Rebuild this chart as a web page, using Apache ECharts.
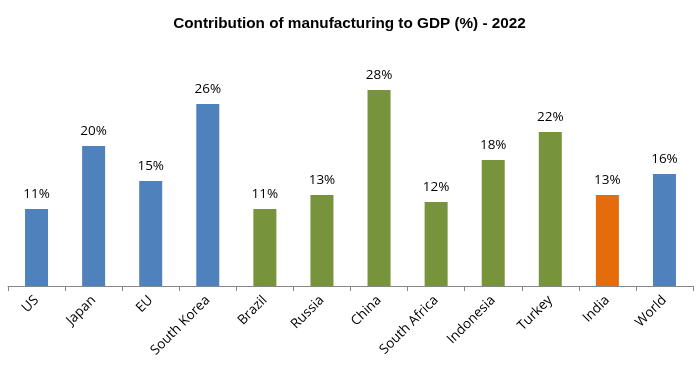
<!DOCTYPE html>
<html><head><meta charset="utf-8">
<script src="https://cdn.jsdelivr.net/npm/echarts@6/dist/echarts.min.js"></script>
<style>html,body{margin:0;padding:0;background:#fff}#c{width:699px;height:370px}</style>
</head><body><div id="c"></div>
<script>
const categories = ['US','Japan','EU','South Korea','Brazil','Russia','China','South Africa','Indonesia','Turkey','India','World'];
const values = [11,20,15,26,11,13,28,12,18,22,13,16];
const groups = ['dev','dev','dev','dev','brics','brics','brics','brics','brics','brics','india','dev'];
const groupColors = {dev:'#4F81BD', brics:'#77933C', india:'#E46C0A'};

const chart = echarts.init(document.getElementById('c'));
chart.setOption({
  animation:false,
  title:{text:'Contribution of manufacturing to GDP (%) - 2022',left:'center',top:11,
    textStyle:{fontFamily:'Liberation Sans',fontWeight:'bold',fontSize:15.3,color:'#000'}},
  grid:{left:8,right:6,top:76,bottom:84,containLabel:false},
  xAxis:{type:'category',data:categories,
    axisLine:{lineStyle:{color:'#868686'}},
    axisTick:{show:true,alignWithLabel:false,length:5,lineStyle:{color:'#868686'}},
    axisLabel:{rotate:45,interval:0,fontFamily:'Open Sans',fontSize:13.5,color:'#000',margin:12}},
  yAxis:{type:'value',min:0,max:30,show:false,splitLine:{show:false}},
  series:[{type:'bar',barWidth:23,
    data:values.map((v,i)=>({value:v,itemStyle:{color:groupColors[groups[i]]}})),
    label:{show:true,position:'top',distance:8,formatter:'{c}%',fontFamily:'Open Sans',fontSize:13.5,color:'#000'}}]
});
</script></body></html>
